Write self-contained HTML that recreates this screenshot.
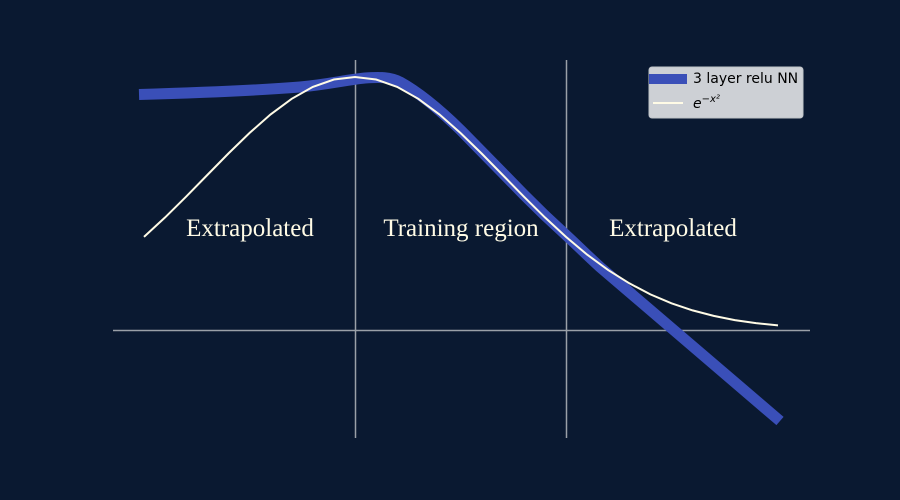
<!DOCTYPE html>
<html><head><meta charset="utf-8"><style>
html,body{margin:0;padding:0;background:#0a1931;overflow:hidden;}
</style></head><body>
<svg width="900" height="500" viewBox="0 0 900 500" xmlns="http://www.w3.org/2000/svg" style="display:block">
<rect width="900" height="500" fill="#0a1931"/>
<line x1="113" y1="330.5" x2="810" y2="330.5" stroke="#9aa0a8" stroke-width="1.5"/>
<line x1="355.5" y1="60" x2="355.5" y2="438" stroke="#9aa0a8" stroke-width="1.5"/>
<line x1="566.5" y1="60" x2="566.5" y2="438" stroke="#9aa0a8" stroke-width="1.5"/>
<path d="M139,94.5 C190,93 250,91 300,87 C330,84 345,80 365,78 C380,77 390,77 400,82 C420,93 440,110 460.5,130 L481.6,151.5 L502.7,173 L523.8,194.6 L544.9,215.4 L566,235 C580,248 590,258 600,267 L780,421" fill="none" stroke="#3a4fb8" stroke-width="11"/>
<polyline fill="none" stroke="#fffbe6" stroke-width="2" points="144,236.9 165.1,217.4 186.2,196.6 207.3,175 228.4,153.5 249.5,133 270.6,114.4 291.7,98.8 312.8,86.9 333.9,79.5 355,77 376.1,79.5 397.2,86.9 418.3,98.8 439.4,114.4 460.5,133 481.6,153.5 502.7,175 523.8,196.6 544.9,217.4 566,236.9 587.1,254.6 608.2,270.1 629.3,283.3 650.4,294.4 671.5,303.3 692.6,310.4 713.7,315.9 734.8,320.1 755.9,323.1 778,325.4"/>
<g font-family="Liberation Serif, serif" font-size="25" fill="#fffbe6" text-anchor="middle">
<text x="250" y="236">Extrapolated</text>
<text x="461" y="236">Training region</text>
<text x="673" y="236">Extrapolated</text>
</g>
<rect x="649" y="67" width="154" height="51" rx="3" fill="#cdd0d5" stroke="#bfc3c8"/>
<rect x="649" y="74" width="38" height="10" fill="#3a4fb8"/>
<line x1="653" y1="103" x2="683" y2="103" stroke="#fffbe6" stroke-width="2"/>
<g font-family="DejaVu Sans, Liberation Sans, sans-serif" fill="#000">
<text x="693" y="83" font-size="14">3 layer relu NN</text>
<text x="693" y="108" font-size="14" font-style="italic">e<tspan font-size="10" dy="-6">−x²</tspan></text>
</g>
</svg>
</body></html>
